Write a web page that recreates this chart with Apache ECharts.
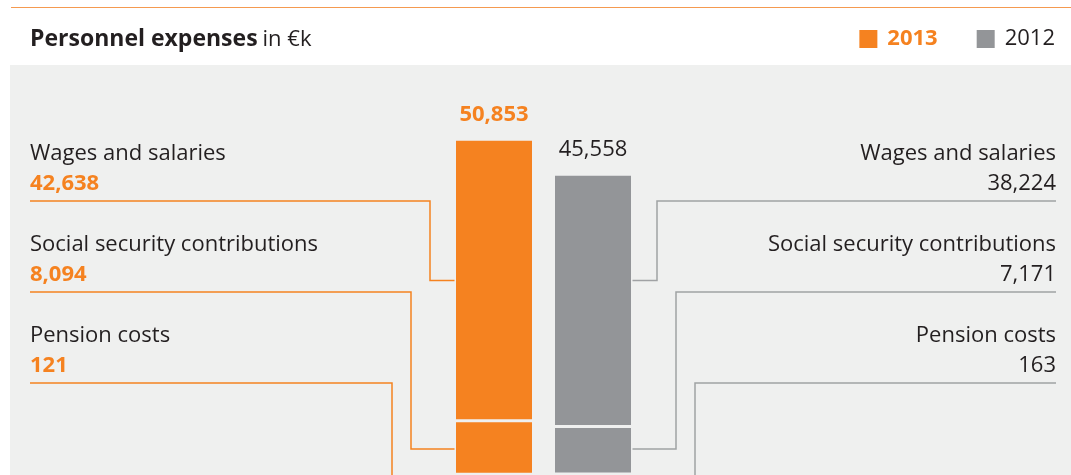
<!DOCTYPE html>
<html>
<head>
<meta charset="utf-8">
<title>Personnel expenses</title>
<script src="https://cdn.jsdelivr.net/npm/echarts@6/dist/echarts.min.js"></script>
<style>
  html, body { margin: 0; padding: 0; background: #ffffff; }
  #chart { width: 1071px; height: 475px; }
</style>
</head>
<body>
<div id="chart"></div>
<script>
// Personnel expenses in €k, split into components, for two years
const categories = ['Wages and salaries', 'Social security contributions', 'Pension costs'];
const years = ['2013', '2012'];
const values2013 = [42638, 8094, 121];
const values2012 = [38224, 7171, 163];

const ORANGE = '#f58220';
const GREY = '#939598';
const PANEL = '#eff0ef';
const INK = '#231f20';
const FONT = '"Open Sans", "Noto Sans", sans-serif';

const fmt = n => String(n).replace(/\B(?=(\d{3})+(?!\d))/g, ',');
const sum = arr => arr.reduce((a, b) => a + b, 0);

const yearValues = { '2013': values2013, '2012': values2012 };
const yearColor = { '2013': ORANGE, '2012': GREY };

const BAR_W = 79, BAR_GAP = 20, BORDER = 1.5;

// Stacked segments: pension at the bottom, wages on top
const series = [];
years.forEach(year => {
  const vals = yearValues[year];
  for (let i = categories.length - 1; i >= 0; i--) {
    const isTop = i === 0;
    series.push({
      type: 'bar',
      name: year,
      stack: 'total-' + year,
      barWidth: BAR_W,
      barGap: (BAR_GAP / BAR_W * 100).toFixed(2) + '%',
      data: [vals[i]],
      itemStyle: { color: yearColor[year], borderColor: PANEL, borderWidth: BORDER },
      label: isTop ? {
        show: true,
        position: 'top',
        distance: 14,
        formatter: () => fmt(sum(vals)),
        fontFamily: FONT,
        fontSize: 22,
        fontWeight: year === '2013' ? 'bold' : 'normal',
        color: year === '2013' ? ORANGE : INK
      } : { show: false },
      emphasis: { disabled: true }
    });
  }
});

const chart = echarts.init(document.getElementById('chart'), null, { renderer: 'canvas' });

chart.setOption({
  animation: false,
  backgroundColor: '#ffffff',
  title: {
    left: 30,
    top: 28,
    padding: 0,
    text: '{b|Personnel expenses} {r|in €k}',
    textStyle: {
      rich: {
        b: { fontFamily: FONT, fontSize: 23, fontWeight: 'bold', color: INK },
        r: { fontFamily: FONT, fontSize: 22, fontWeight: 'normal', color: INK }
      }
    }
  },
  legend: {
    right: 16,
    top: 28,
    padding: 0,
    icon: 'rect',
    itemWidth: 18,
    itemHeight: 18,
    itemGap: 39,
    selectedMode: false,
    itemStyle: { borderWidth: 0 },
    textStyle: { fontFamily: FONT, fontSize: 22, color: INK, padding: [0, 0, 0, 5] },
    data: [
      { name: '2013', textStyle: { color: ORANGE, fontWeight: 'bold' } },
      { name: '2012', textStyle: { color: INK, fontWeight: 'normal' } }
    ]
  },
  // the bars run on below the lower edge of the panel
  grid: { left: 443.5, right: 427.5, top: 78.9, bottom: -1.2 },
  xAxis: { type: 'category', data: ['Personnel expenses'], show: false },
  yAxis: { type: 'value', min: 0, max: 60000, show: false },
  series: series
});

// Side labels and leader lines
const ROW_BASE = 160.5;     // baseline of the first category name
const ROW_STEP = 91;
const TEXT_MID = 6.5;       // baseline to text middle
const LEFT_X = 30;
const RIGHT_X = 1056;
const LEFT_BEND = [430, 411, 392];
const RIGHT_BEND = [657, 676, 695];
const LINK_Y = [280.5, 449, 500];

const cx = chart.convertToPixel({ xAxisIndex: 0 }, 0);
const leftEdge = cx - BAR_GAP / 2 - BAR_W + BORDER;
const rightEdge = cx + BAR_GAP / 2 + BAR_W - BORDER;

const graphics = [
  { type: 'rect', z: -10, silent: true, shape: { x: 10, y: 65, width: 1061, height: 410 }, style: { fill: PANEL } },
  { type: 'line', z: -5, silent: true, shape: { x1: 11, y1: 7.5, x2: 1071, y2: 7.5 }, style: { stroke: '#f59a50', lineWidth: 1 } }
];

categories.forEach((name, i) => {
  const base = ROW_BASE + i * ROW_STEP;
  const under = base + 40.5;
  // left side (2013)
  graphics.push({ type: 'text', silent: true, x: LEFT_X, y: base - TEXT_MID,
    style: { text: name, font: '22px ' + FONT, fill: INK, align: 'left', verticalAlign: 'middle' } });
  graphics.push({ type: 'text', silent: true, x: LEFT_X, y: base + 30 - TEXT_MID,
    style: { text: fmt(values2013[i]), font: 'bold 22px ' + FONT, fill: ORANGE, align: 'left', verticalAlign: 'middle' } });
  graphics.push({ type: 'polyline', silent: true,
    shape: { points: [[LEFT_X, under], [LEFT_BEND[i], under], [LEFT_BEND[i], LINK_Y[i]], [leftEdge, LINK_Y[i]]] },
    style: { stroke: ORANGE, lineWidth: 1.5, fill: null } });
  // right side (2012)
  graphics.push({ type: 'text', silent: true, x: RIGHT_X, y: base - TEXT_MID,
    style: { text: name, font: '22px ' + FONT, fill: INK, align: 'right', verticalAlign: 'middle' } });
  graphics.push({ type: 'text', silent: true, x: RIGHT_X, y: base + 30 - TEXT_MID,
    style: { text: fmt(values2012[i]), font: '22px ' + FONT, fill: INK, align: 'right', verticalAlign: 'middle' } });
  graphics.push({ type: 'polyline', silent: true,
    shape: { points: [[RIGHT_X, under], [RIGHT_BEND[i], under], [RIGHT_BEND[i], LINK_Y[i]], [rightEdge, LINK_Y[i]]] },
    style: { stroke: '#a0a2a4', lineWidth: 1.5, fill: null } });
});

chart.setOption({ graphic: { elements: graphics } });
</script>
</body>
</html>
